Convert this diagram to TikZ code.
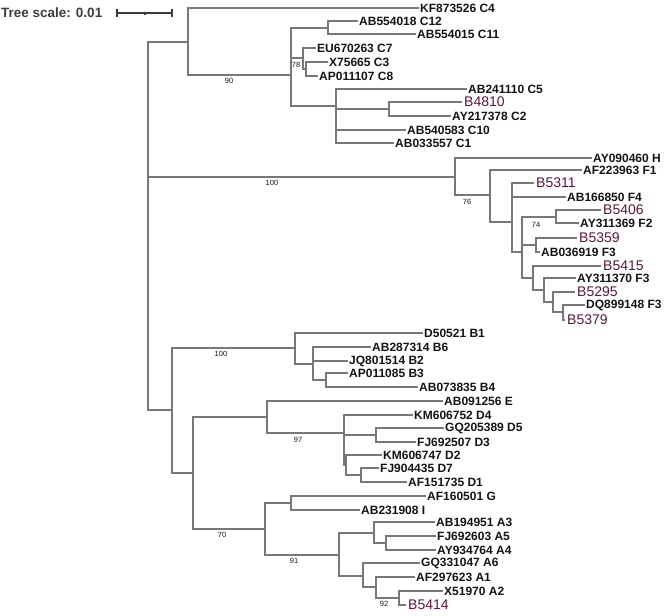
\documentclass[tikz,border=0pt]{standalone}
\usepackage{fontspec}
\setmainfont{Liberation Sans}
\usetikzlibrary{positioning}
\definecolor{branchgray}{RGB}{120,120,120}
\definecolor{leafblack}{RGB}{20,20,20}
\definecolor{scalegray}{RGB}{60,60,60}
\definecolor{hitpurple}{RGB}{95,20,60}

\begin{document}
\begin{tikzpicture}[
    x=1pt,
    y=-1pt,
    branch/.style={draw=branchgray, line width=1.2pt},
    elbow/.style={to path={|- (\tikztotarget)}},
    leaf/.style={anchor=west, inner xsep=1pt, inner ysep=0pt, text=leafblack,
        font=\fontsize{12}{12}\selectfont\bfseries},
    isolate/.style={anchor=west, inner xsep=2pt, inner ysep=0pt, text=hitpurple,
        font=\fontsize{14}{14}\selectfont},
    boot/.style={inner sep=0pt, text=leafblack, font=\fontsize{7.5}{7.5}\selectfont},
    scalebar/.style={draw=scalegray, line width=1.1pt}]
]
    \useasboundingbox (0,0) rectangle (667,616);

    \node[anchor=west, inner sep=0pt, text=scalegray, font=\fontsize{13.5}{13.5}\selectfont\bfseries]
        (TreeScale) at (1,13) {Tree scale: 0.01};
    \coordinate (ScaleL) at (117,13);
    \coordinate (ScaleM) at (145,13);
    \coordinate (ScaleR) at (172,13);
    \draw[scalebar] (ScaleL) -- (ScaleR);
    \draw[scalebar] ([yshift=4pt]ScaleL) -- ([yshift=-4pt]ScaleL);
    \draw[scalebar] ([yshift=4pt]ScaleR) -- ([yshift=-4pt]ScaleR);
    \draw[scalebar] (ScaleM) -- ([yshift=-2pt]ScaleM);

    % genotype C
    \coordinate (Root) at (148,177);
    \coordinate (nC)   at (188,42);
    \coordinate (nC2)  at (291,75);
    \coordinate (nC11) at (328,28);
    \coordinate (nC7)  at (303,58);
    \coordinate (nC3)  at (306,69);
    \coordinate (nC5)  at (336,106);
    \coordinate (nC2b) at (389,109);
    \node[leaf]    (KF873526) at (419,8)   {KF873526 C4};
    \node[leaf]    (AB554018) at (358,21)  {AB554018 C12};
    \node[leaf]    (AB554015) at (416,34)  {AB554015 C11};
    \node[leaf]    (EU670263) at (316,48)  {EU670263 C7};
    \node[leaf]    (X75665)   at (328,62)  {X75665 C3};
    \node[leaf]    (AP011107) at (318,76)  {AP011107 C8};
    \node[leaf]    (AB241110) at (467,89)  {AB241110 C5};
    \node[isolate] (B4810)    at (462,102) {B4810};
    \node[leaf]    (AY217378) at (451,116) {AY217378 C2};
    \node[leaf]    (AB540583) at (406,130) {AB540583 C10};
    \node[leaf]    (AB033557) at (394,143) {AB033557 C1};

    % genotypes H and F
    \coordinate (nFH) at (455,177);
    \coordinate (nF1) at (490,195);
    \coordinate (nF2) at (512,222);
    \coordinate (nF3) at (522,252);
    \coordinate (nFa) at (556,217);
    \coordinate (nFb) at (536,245);
    \coordinate (nFc) at (533,278);
    \coordinate (nFd) at (544,290);
    \coordinate (nFe) at (553,302);
    \coordinate (nFf) at (563,312);
    \node[leaf]    (AY090460) at (592,158) {AY090460 H};
    \node[leaf]    (AF223963) at (582,170) {AF223963 F1};
    \node[isolate] (B5311)    at (534,183) {B5311};
    \node[leaf]    (AB166850) at (566,197) {AB166850 F4};
    \node[isolate] (B5406)    at (601,210) {B5406};
    \node[leaf]    (AY311369) at (579,223) {AY311369 F2};
    \node[isolate] (B5359)    at (577,238) {B5359};
    \node[leaf]    (AB036919) at (540,252) {AB036919 F3};
    \node[isolate] (B5415)    at (601,266) {B5415};
    \node[leaf]    (AY311370) at (576,278) {AY311370 F3};
    \node[isolate] (B5295)    at (575,292) {B5295};
    \node[leaf]    (DQ899148) at (585,305) {DQ899148 F3};
    \node[isolate] (B5379)    at (565,320) {B5379};

    % genotypes B, E, D, G, I and A
    \coordinate (nBDA) at (172,410);
    \coordinate (nB)   at (295,348);
    \coordinate (nB2)  at (313,364);
    \coordinate (nB3)  at (326,380);
    \coordinate (nDA)  at (193,473);
    \coordinate (nED)  at (267,417);
    \coordinate (nD)   at (344,433);
    \coordinate (nD5)  at (376,435);
    \coordinate (nD2)  at (346,465);
    \coordinate (nD7)  at (361,475);
    \coordinate (nGA)  at (265,529);
    \coordinate (nGI)  at (291,503);
    \coordinate (nA)   at (339,555);
    \coordinate (nA3)  at (374,533);
    \coordinate (nA5)  at (386,543);
    \coordinate (nA6)  at (363,576);
    \coordinate (nA1)  at (376,587);
    \coordinate (nA2)  at (399,598);
    \node[leaf]    (D50521)   at (423,333) {D50521 B1};
    \node[leaf]    (AB287314) at (371,347) {AB287314 B6};
    \node[leaf]    (JQ801514) at (348,361) {JQ801514 B2};
    \node[leaf]    (AP011085) at (348,373) {AP011085 B3};
    \node[leaf]    (AB073835) at (418,387) {AB073835 B4};
    \node[leaf]    (AB091256) at (443,401) {AB091256 E};
    \node[leaf]    (KM606752) at (413,415) {KM606752 D4};
    \node[leaf]    (GQ205389) at (444,428) {GQ205389 D5};
    \node[leaf]    (FJ692507) at (416,442) {FJ692507 D3};
    \node[leaf]    (KM606747) at (382,455) {KM606747 D2};
    \node[leaf]    (FJ904435) at (379,468) {FJ904435 D7};
    \node[leaf]    (AF151735) at (407,482) {AF151735 D1};
    \node[leaf]    (AF160501) at (426,496) {AF160501 G};
    \node[leaf]    (AB231908) at (360,510) {AB231908 I};
    \node[leaf]    (AB194951) at (435,522) {AB194951 A3};
    \node[leaf]    (FJ692603) at (436,536) {FJ692603 A5};
    \node[leaf]    (AY934764) at (436,550) {AY934764 A4};
    \node[leaf]    (GQ331047) at (420,563) {GQ331047 A6};
    \node[leaf]    (AF297623) at (415,577) {AF297623 A1};
    \node[leaf]    (X51970)   at (443,591) {X51970 A2};
    \node[isolate] (B5414)    at (406,605) {B5414};

    \path[branch]
    (Root) edge[elbow] (nC) edge[elbow] (nFH) edge[elbow] (nBDA)
    (nC)   edge[elbow] (KF873526.west) edge[elbow] (nC2)
    (nC2)  edge[elbow] (nC11) edge[elbow] (nC7) edge[elbow] (nC5)
    (nC11) edge[elbow] (AB554018.west) edge[elbow] (AB554015.west)
    (nC7)  edge[elbow] (EU670263.west) edge[elbow] (nC3)
    (nC3)  edge[elbow] (X75665.west) edge[elbow] (AP011107.west)
    (nC5)  edge[elbow] (AB241110.west) edge[elbow] (nC2b)
           edge[elbow] (AB540583.west) edge[elbow] (AB033557.west)
    (nC2b) edge[elbow] (B4810.west) edge[elbow] (AY217378.west)
    (nFH)  edge[elbow] (AY090460.west) edge[elbow] (nF1)
    (nF1)  edge[elbow] (AF223963.west) edge[elbow] (nF2)
    (nF2)  edge[elbow] (B5311.west) edge[elbow] (AB166850.west) edge[elbow] (nF3)
    (nF3)  edge[elbow] (nFa) edge[elbow] (nFb) edge[elbow] (nFc)
    (nFa)  edge[elbow] (B5406.west) edge[elbow] (AY311369.west)
    (nFb)  edge[elbow] (B5359.west) edge[elbow] (AB036919.west)
    (nFc)  edge[elbow] (B5415.west) edge[elbow] (nFd)
    (nFd)  edge[elbow] (AY311370.west) edge[elbow] (nFe)
    (nFe)  edge[elbow] (B5295.west) edge[elbow] (nFf)
    (nFf)  edge[elbow] (DQ899148.west) edge[elbow] (B5379.west)
    (nBDA) edge[elbow] (nB) edge[elbow] (nDA)
    (nB)   edge[elbow] (D50521.west) edge[elbow] (nB2)
    (nB2)  edge[elbow] (AB287314.west) edge[elbow] (JQ801514.west) edge[elbow] (nB3)
    (nB3)  edge[elbow] (AP011085.west) edge[elbow] (AB073835.west)
    (nDA)  edge[elbow] (nED) edge[elbow] (nGA)
    (nED)  edge[elbow] (AB091256.west) edge[elbow] (nD)
    (nD)   edge[elbow] (KM606752.west) edge[elbow] (nD5) edge[elbow] (nD2)
    (nD5)  edge[elbow] (GQ205389.west) edge[elbow] (FJ692507.west)
    (nD2)  edge[elbow] (KM606747.west) edge[elbow] (nD7)
    (nD7)  edge[elbow] (FJ904435.west) edge[elbow] (AF151735.west)
    (nGA)  edge[elbow] (nGI) edge[elbow] (nA)
    (nGI)  edge[elbow] (AF160501.west) edge[elbow] (AB231908.west)
    (nA)   edge[elbow] (nA3) edge[elbow] (nA6)
    (nA3)  edge[elbow] (AB194951.west) edge[elbow] (nA5)
    (nA5)  edge[elbow] (FJ692603.west) edge[elbow] (AY934764.west)
    (nA6)  edge[elbow] (GQ331047.west) edge[elbow] (nA1)
    (nA1)  edge[elbow] (AF297623.west) edge[elbow] (nA2)
    (nA2)  edge[elbow] (X51970.west) edge[elbow] (B5414.west);

    \node[boot] (bs90)  at (229,81)  {90};
    \node[boot] (bs78)  at (296,65)  {78};
    \node[boot] (bs100) at (272,183) {100};
    \node[boot] (bs76)  at (467,202) {76};
    \node[boot] (bs74)  at (536,225) {74};
    \node[boot] (bsB)   at (221,354) {100};
    \node[boot] (bs97)  at (298,440) {97};
    \node[boot] (bs70)  at (222,535) {70};
    \node[boot] (bs91)  at (294,561) {91};
    \node[boot] (bs92)  at (384,604) {92};
\end{tikzpicture}
\end{document}
